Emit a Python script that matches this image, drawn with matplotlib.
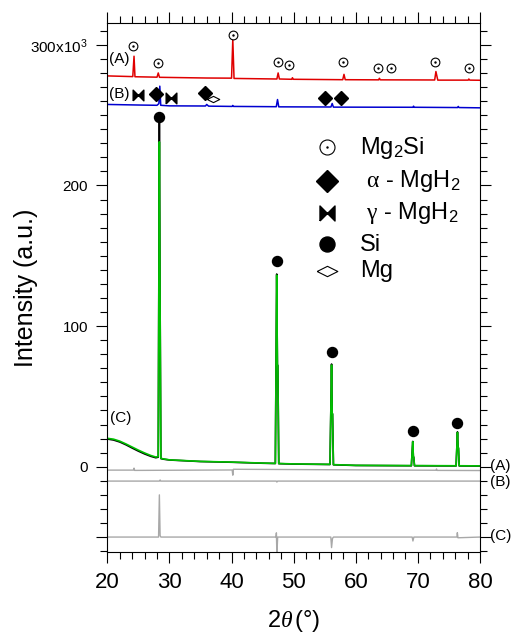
import numpy as np
import matplotlib
matplotlib.use("Agg")
import matplotlib.pyplot as plt
from matplotlib.ticker import MultipleLocator, FixedLocator, FixedFormatter

plt.rcParams['font.family'] = ['Liberation Sans', 'DejaVu Sans']
plt.rcParams['mathtext.fontset'] = 'custom'
plt.rcParams['mathtext.rm'] = 'Liberation Serif'
plt.rcParams['mathtext.it'] = 'Liberation Serif:italic'
plt.rcParams['mathtext.default'] = 'regular'

# patron (A), rojo, intensidades en miles de cuentas
tt_A = [20.0, 24.1, 24.3, 24.45, 28.0, 28.2, 28.4, 36.0, 40.0, 40.2, 40.4, 47.3, 47.5, 47.7,
        49.7, 49.8, 49.95, 57.9, 58.1, 58.3, 63.7, 63.8, 63.95, 72.7, 72.9, 73.2, 78.1, 78.2, 78.35, 80.0]
I_A = [277.9, 277.4, 291.9, 277.3, 277.0, 280.0, 276.9, 276.4, 276.3, 303.8, 276.1, 275.7, 280.0, 275.7,
       275.5, 276.6, 275.5, 275.2, 279.0, 275.2, 275.1, 276.2, 275.1, 275.0, 281.0, 274.9, 274.9, 275.7, 274.9, 274.8]

# patron (B), azul
tt_B = [20.0, 25.0, 28.0, 28.3, 28.45, 28.6, 30.0, 35.8, 36.0, 36.3, 40.1, 40.2, 40.3, 47.2, 47.4, 47.6,
        56.0, 56.2, 56.4, 69.2, 69.3, 69.4, 76.4, 76.5, 76.6, 80.0]
I_B = [257.6, 257.2, 257.0, 258.2, 270.6, 257.0, 256.6, 256.5, 257.6, 256.4, 256.2, 256.9, 256.2, 256.0, 261.1, 255.9,
       255.8, 258.3, 255.7, 255.6, 256.4, 255.6, 255.4, 256.2, 255.4, 255.2]

# patron (C), observado (verde) y calculado (negro)
tt_C = [20.0, 21.0, 22.0, 23.0, 24.0, 25.0, 26.0, 27.0, 27.8, 28.2, 28.38, 28.5, 28.62, 29.0, 30.0, 35.0, 40.0,
        45.0, 47.05, 47.27, 47.38, 47.45, 47.6, 50.0, 55.85, 56.1, 56.2, 56.26, 56.4, 60.0,
        68.95, 69.17, 69.27, 69.33, 69.45, 76.15, 76.37, 76.47, 76.53, 76.65, 80.0]
I_obs = [20.2, 19.6, 18.2, 16.2, 14.0, 11.8, 9.8, 8.0, 6.9, 7.2, 231.0, 110.0, 6.0, 5.6, 4.9, 3.8, 3.3,
         2.6, 2.4, 136.2, 72.3, 72.0, 2.3, 2.0, 1.7, 72.3, 38.0, 37.5, 1.5, 1.0,
         0.8, 17.8, 7.0, 6.8, 0.8, 0.7, 24.4, 13.6, 13.4, 0.7, 0.6]
I_calc = [19.7, 19.0, 17.6, 15.6, 13.3, 11.1, 9.1, 7.4, 6.4, 6.8, 246.0, 112.0, 5.8, 5.4, 4.8, 3.7, 3.2,
          2.5, 2.3, 137.0, 72.5, 72.0, 2.2, 1.9, 1.6, 73.0, 38.0, 37.5, 1.4, 0.9,
          0.7, 18.0, 7.0, 6.8, 0.7, 0.6, 24.8, 13.6, 13.4, 0.6, 0.5]

# diferencias (gris)
tt_dA = [20.0, 24.2, 24.3, 24.4, 40.1, 40.2, 40.3, 72.9, 73.0, 73.1, 80.0]
d_A = [-2.4, -2.4, -1.0, -2.6, -2.3, -6.0, -1.8, -2.5, -1.6, -2.6, -2.7]
tt_dB = [20.0, 28.4, 28.5, 28.6, 47.2, 47.3, 47.4, 80.0]
d_B = [-10.2, -10.2, -9.4, -10.2, -10.2, -10.9, -10.2, -10.2]
tt_dC = [20.0, 28.25, 28.38, 28.5, 28.62, 47.15, 47.22, 47.3, 47.42, 55.98, 56.1, 56.25, 56.4,
         69.08, 69.2, 69.35, 76.28, 76.35, 76.45, 80.0]
d_C = [-50.0, -50.0, -20.0, -49.0, -50.0, -50.0, -47.0, -63.0, -50.0, -50.0, -57.5, -51.0, -50.0,
       -50.0, -52.8, -50.0, -50.0, -46.9, -50.5, -50.0]

# marcas de fases
mg2si_x = [24.2, 28.2, 40.2, 47.5, 49.3, 58.0, 63.6, 65.7, 72.8, 78.2]
mg2si_y = [299.2, 287.1, 307.3, 287.6, 285.3, 287.6, 283.8, 283.4, 287.6, 283.8]
alfa_x = [27.8, 35.8, 55.0, 57.7]
alfa_y = [264.7, 265.4, 262.3, 262.3]
gamma_x = [25.0, 30.2]
gamma_y = [264.2, 262.5]
mg_x = [37.0]
mg_y = [261.6]
si_x = [28.4, 47.3, 56.1, 69.2, 76.3]
si_y = [249.0, 146.4, 81.7, 25.6, 30.8]

bowtie = [(-1, -1), (-1, 1), (1, -1), (1, 1), (-1, -1)]
rombo = [(-1, 0), (0, 0.5), (1, 0), (0, -0.5), (-1, 0)]

fig = plt.figure(figsize=(5.13, 6.35), dpi=100)
ax = fig.add_axes([0.2092, 0.1312, 0.7265, 0.8321])

ax.plot(tt_dA, d_A, color='#a8a8a8', lw=1.0)
ax.plot(tt_dB, d_B, color='#a8a8a8', lw=1.0)
ax.plot(tt_dC, d_C, color='#a8a8a8', lw=1.0)
ax.plot(tt_C, I_calc, color='black', lw=1.2)
ax.plot(tt_C, I_obs, color='#00c000', lw=1.2)
ax.plot(tt_B, I_B, color='#0000d0', lw=1.1)
ax.plot(tt_A, I_A, color='#e00000', lw=1.1)

ax.plot(mg2si_x, mg2si_y, 'o', ms=6.3, mfc='white', mec='black', mew=0.8)
ax.plot(mg2si_x, mg2si_y, '.', ms=1.5, color='black')
ax.plot(mg_x, mg_y, marker=rombo, ls='none', ms=9, mfc='white', mec='black', mew=0.8)
ax.plot(alfa_x, alfa_y, 'D', ms=7.3, color='black')
ax.plot(gamma_x, gamma_y, marker=bowtie, ls='none', ms=7.7, color='black')
ax.plot(si_x, si_y, 'o', ms=7.2, color='black')

# leyenda dibujada a mano
lx, tx = 55.4, 60.7
ax.plot([lx], [227.4], 'o', ms=10.8, mfc='white', mec='black', mew=0.8)
ax.plot([lx], [227.4], '.', ms=1.5, color='black')
ax.plot([lx], [203.0], 'D', ms=11, color='black')
ax.plot([lx], [180.2], marker=bowtie, ls='none', ms=10.8, color='black')
ax.plot([lx], [158.1], 'o', ms=10.8, color='black')
ax.plot([lx], [139.0], marker=rombo, ls='none', ms=14.9, mfc='white', mec='black', mew=0.8)
ax.text(tx, 222.7, 'Mg$_2$Si', fontsize=17)
ax.text(tx, 198.6, ' $\\mathrm{\\alpha}$ - MgH$_2$', fontsize=17)
ax.text(tx, 175.8, ' $\\mathrm{\\gamma}$ - MgH$_2$', fontsize=17)
ax.text(tx, 153.5, 'Si', fontsize=17)
ax.text(tx, 135.0, 'Mg', fontsize=17)

ax.text(20.3, 290.0, '(A)', fontsize=11, va='center')
ax.text(20.3, 264.9, '(B)', fontsize=11, va='center')
ax.text(20.4, 34.6, '(C)', fontsize=11, va='center')
for lab, yv in [('(A)', 0.5), ('(B)', -10.5), ('(C)', -49.5)]:
    ax.text(81.6, yv, lab, fontsize=11, va='center', clip_on=False)

ax.set_xlim(20, 80)
ax.set_ylim(-60.4, 315.3)
ax.xaxis.set_major_locator(MultipleLocator(10))
ax.xaxis.set_minor_locator(MultipleLocator(2))
ax.yaxis.set_major_locator(FixedLocator([-50, 0, 100, 200, 300]))
ax.yaxis.set_major_formatter(FixedFormatter(['', '0', '100', '200', '300x10$^3$']))
ax.yaxis.set_minor_locator(MultipleLocator(10))
ax.tick_params(which='both', direction='out', top=True, right=True, width=0.8)
ax.tick_params(which='major', length=8)
ax.tick_params(which='minor', length=5)
ax.tick_params(axis='x', labelsize=16, pad=6.5)
ax.tick_params(axis='y', labelsize=11, pad=6)
for s in ax.spines.values():
    s.set_linewidth(0.8)

ax.set_xlabel('2$\\mathit{\\theta}\\,$(°)', fontsize=17, labelpad=11)
ax.set_ylabel('Intensity (a.u.)', fontsize=18)
ax.yaxis.set_label_coords(-0.186, 0.5)

fig.savefig('out.png', dpi=100)
